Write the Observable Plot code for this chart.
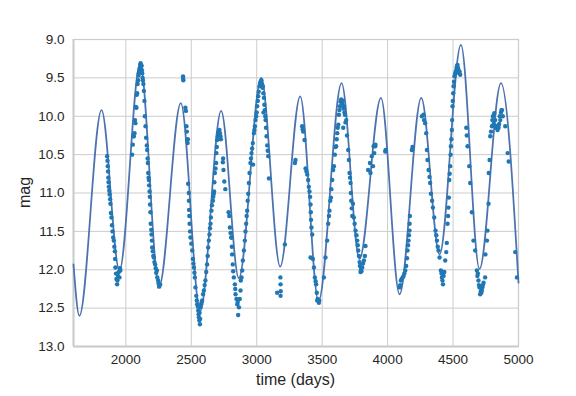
<!DOCTYPE html>
<html>
<head>
<meta charset="utf-8">
<script src="https://cdn.jsdelivr.net/npm/d3@7"></script>
<script src="https://cdn.jsdelivr.net/npm/@observablehq/plot@0.6"></script>
<style>
  html, body { margin: 0; padding: 0; background: #fff; }
  #chart { width: 576px; height: 396px; }
  svg { font-family: "Liberation Sans", Arial, sans-serif; }
</style>
</head>
<body>
<div id="chart"></div>
<script>
// Fitted model curve: extremes (time in days, magnitude)
const fitTime = [1600, 1645, 1814, 1951, 2109, 2254, 2420, 2568, 2728, 2863, 3034, 3179, 3332, 3472, 3648, 3785, 3949, 4091, 4257, 4397, 4560, 4702, 4866, 5000];
const fitMag  = [11.93, 12.60, 9.92, 12.01, 9.31, 12.22, 9.83, 12.54, 9.93, 12.11, 9.50, 11.96, 9.74, 12.41, 9.57, 11.86, 9.76, 12.32, 9.76, 11.80, 9.07, 11.99, 9.57, 12.17];

const observations = [
  [1857,10.52],[1860,10.58],[1862,10.65],[1864,10.72],[1866,10.80],[1868,10.86],[1870,10.92],[1873,10.97],[1876,11.02],[1880,11.08],
  [1882,11.14],[1886,11.26],[1890,11.32],[1894,11.42],[1898,11.50],[1903,11.58],[1908,11.62],[1912,11.70],[1916,11.76],[1918,11.86],
  [1920,11.97],[1925,12.05],[1928,12.12],[1933,12.19],[1936,12.14],[1940,12.08],[1946,12.03],[1951,12.10],[1955,11.98],[1958,12.01],
  [2048,10.50],[2053,10.37],[2058,10.26],[2061,10.26],[2066,10.22],[2070,10.05],[2073,10.09],[2076,9.88],[2081,9.89],[2084,9.72],
  [2086,9.70],[2090,9.58],[2094,9.53],[2097,9.47],[2099,9.44],[2103,9.40],[2107,9.37],[2110,9.33],[2113,9.31],[2117,9.35],
  [2120,9.34],[2123,9.40],[2125,9.44],[2128,9.50],[2130,9.53],[2134,9.58],[2138,9.67],[2142,9.80],[2145,10.00],[2150,10.13],
  [2155,10.28],[2160,10.38],[2163,10.44],[2166,10.55],[2168,10.61],[2171,10.74],[2174,10.80],[2176,10.83],[2178,10.90],[2181,10.98],
  [2183,11.05],[2185,11.15],[2188,11.25],[2190,11.40],[2194,11.48],[2196,11.54],[2199,11.62],[2201,11.71],[2206,11.76],[2210,11.82],
  [2214,11.84],[2218,11.90],[2224,11.93],[2228,11.98],[2232,12.04],[2237,12.01],[2240,12.10],[2247,12.14],[2250,12.18],[2254,12.22],
  [2257,12.21],[2262,12.19],
  [2437,9.48],[2438,9.51],[2439,9.53],
  [2455,9.89],[2459,9.93],[2463,10.13],[2466,10.20],[2468,10.31],[2472,10.35],[2474,10.30],[2476,10.88],[2481,11.00],[2482,11.10],
  [2483,11.22],[2485,11.30],[2487,11.40],[2491,11.50],[2494,11.58],[2500,11.66],[2507,11.75],[2512,11.86],[2516,11.92],[2520,11.97],
  [2524,12.04],[2527,12.10],[2532,12.23],[2538,12.34],[2542,12.40],[2545,12.45],[2550,12.48],[2553,12.53],[2556,12.58],[2558,12.62],
  [2561,12.66],[2563,12.56],[2566,12.71],[2568,12.64],[2570,12.49],[2575,12.45],[2579,12.42],[2583,12.40],[2590,12.32],[2596,12.27],
  [2602,12.20],[2608,12.14],[2614,12.03],[2621,11.93],[2625,11.82],[2629,11.71],[2634,11.62],[2639,11.54],[2643,11.46],[2647,11.40],
  [2650,11.32],[2654,11.23],[2658,11.16],[2665,11.10],[2668,11.05],[2672,11.01],[2674,10.98],[2676,10.86],[2680,10.74],[2685,10.68],
  [2690,10.61],[2692,10.48],[2695,10.40],[2697,10.31],[2702,10.26],[2705,10.22],[2710,10.19],[2715,10.18],[2719,10.22],[2723,10.26],
  [2726,10.30],
  [2741,10.60],[2743,10.55],[2746,10.70],[2752,10.85],[2760,10.95],[2785,11.25],[2790,11.30],[2795,11.45],[2800,11.52],[2805,11.58],
  [2807,11.58],[2810,11.70],[2812,11.80],[2817,11.93],[2820,12.02],[2825,12.10],[2833,12.19],[2836,12.25],[2838,12.32],[2845,12.38],
  [2851,12.45],[2855,12.42],[2858,12.59],[2864,12.49],[2870,12.38],[2876,12.27],[2878,12.14],[2884,12.10],
  [2889,12.01],[2894,11.88],[2902,11.75],[2909,11.62],[2914,11.50],[2919,11.40],[2923,11.30],[2927,11.23],[2931,11.10],[2935,11.01],
  [2940,10.87],[2945,10.74],[2952,10.61],[2956,10.55],[2960,10.48],[2965,10.42],[2970,10.35],[2972,10.63],[2978,10.22],[2982,10.18],
  [2986,10.13],[2991,10.05],[2996,10.00],[3000,9.95],[3003,9.87],[3008,9.80],[3011,9.74],[3015,9.68],[3021,9.61],[3025,9.58],
  [3029,9.55],[3032,9.57],[3036,9.53],[3040,9.58],[3044,9.63],[3047,9.61],[3051,9.70],[3052,9.95],[3055,9.76],[3058,9.85],
  [3062,9.92],[3065,10.00],[3067,10.05],[3071,10.15],[3075,10.26],[3080,10.38],[3084,10.45],[3088,10.52],[3093,10.81],
  [3156,12.30],[3181,12.10],[3182,12.19],[3183,12.28],[3182,12.34],[3215,11.67],
  [3292,10.61],[3296,10.57],[3347,10.13],[3351,10.17],[3355,10.20],[3365,10.31],[3373,10.68],[3380,10.72],[3386,10.76],[3393,10.83],
  [3398,10.92],[3403,10.98],[3408,11.05],[3411,11.15],[3413,11.25],[3415,11.35],[3418,11.45],[3424,11.54],[3411,11.84],[3429,11.86],
  [3437,11.97],[3444,12.10],[3450,12.15],[3454,12.19],[3459,12.30],[3462,12.40],[3466,12.38],[3475,12.43],[3478,12.40],
  [3513,12.10],[3525,11.84],[3538,11.62],[3546,11.40],[3552,11.30],[3556,11.23],[3562,11.10],[3567,11.06],[3570,10.95],[3577,10.83],
  [3584,10.70],[3590,10.65],[3597,10.50],[3602,10.40],[3607,10.39],[3611,10.30],[3615,10.22],[3619,10.15],[3623,10.11],[3628,9.98],
  [3632,9.92],[3636,9.87],[3640,9.81],[3645,9.78],[3650,9.79],[3653,9.83],[3657,9.80],[3661,10.15],[3663,9.90],[3666,9.87],
  [3670,9.95],[3674,9.98],[3678,10.08],[3684,10.05],[3690,10.25],[3699,10.44],[3704,10.57],[3709,10.74],[3713,10.80],[3717,10.87],
  [3719,11.00],[3722,11.10],[3726,11.20],[3730,11.30],[3735,11.14],[3742,11.32],[3748,11.40],[3755,11.49],[3762,11.55],[3768,11.62],
  [3772,11.68],[3776,11.75],[3781,11.82],[3786,11.90],[3788,11.95],[3793,12.03],[3796,12.00],[3800,12.02],[3806,11.97],[3812,11.92],
  [3819,11.88],[3826,11.82],[3831,11.69],
  [3851,10.70],[3865,10.61],[3869,10.74],[3879,10.52],[3888,10.65],[3893,10.39],[3898,10.48],[3905,10.39],[3907,10.37],[3982,10.46],
  [3985,10.44],
  [4091,12.23],[4096,12.20],[4101,12.14],[4108,12.12],[4115,12.10],[4122,12.08],[4128,12.05],[4135,12.01],[4142,11.95],[4148,11.85],
  [4152,11.75],[4156,11.68],[4160,11.62],[4163,11.55],[4167,11.49],[4168,11.40],[4170,11.30],
  [4185,10.44],[4190,10.40],[4262,10.00],[4274,9.98],[4278,10.05],[4287,10.09],[4295,10.22],[4300,10.44],[4305,10.57],[4313,10.70],
  [4320,10.79],[4325,10.87],[4331,11.01],[4340,11.10],[4346,11.19],[4356,11.32],[4366,11.49],[4372,11.55],[4377,11.62],[4383,11.70],
  [4389,11.75],[4397,11.84],[4407,12.01],[4412,12.05],[4415,12.10],[4419,12.14],[4423,12.19],[4428,12.08],[4433,12.03],[4440,11.88],
  [4448,11.77],[4452,11.65],[4458,11.40],[4462,11.30],[4465,11.19],[4468,11.06],
  [4471,10.83],[4474,10.75],[4478,10.65],[4481,10.50],[4484,10.39],[4487,10.30],[4491,10.18],[4493,10.05],[4496,9.87],[4498,9.80],
  [4501,9.70],[4504,9.61],[4507,9.55],[4511,9.48],[4515,9.45],[4520,9.42],[4524,9.40],[4528,9.36],[4531,9.34],[4534,9.33],
  [4538,9.37],[4542,9.40],[4546,9.44],[4550,9.42],[4555,9.46],[4601,10.15],[4605,10.25],[4611,10.39],[4624,10.65],[4631,10.87],
  [4644,11.25],[4656,11.62],[4669,11.75],[4682,12.01],[4686,12.08],[4690,12.05],[4694,12.14],[4698,12.20],[4702,12.23],[4707,12.32],
  [4712,12.28],[4716,12.30],[4720,12.27],[4724,12.23],[4728,12.20],[4733,12.17],[4745,12.10],
  [4747,11.80],[4759,11.62],[4763,11.49],[4771,11.14],[4773,10.74],[4779,10.57],[4784,10.26],[4790,10.20],[4797,10.13],[4800,10.05],
  [4805,10.00],[4810,10.10],[4815,9.96],[4818,10.12],[4822,10.05],[4828,10.15],[4835,10.13],[4840,10.18],[4845,10.12],[4848,10.15],
  [4852,10.10],[4857,10.00],[4861,10.05],[4866,9.95],[4870,9.92],[4874,9.92],[4880,10.00],[4899,10.13],[4917,10.48],[4925,10.59],
  [4975,11.77],[4988,12.10]
];

const xTicks = [2000, 2500, 3000, 3500, 4000, 4500, 5000];
const yTicks = [9.0, 9.5, 10.0, 10.5, 11.0, 11.5, 12.0, 12.5, 13.0];
const xLabel = "time (days)";
const yLabel = "mag";

const fit = fitTime.map((t, i) => ({t, mag: fitMag[i]}));
const obs = observations.map(([t, mag]) => ({t, mag}));

const gridColor = "#cccccc";
const textColor = "#262626";

const svg = Plot.plot({
  width: 576,
  height: 396,
  marginLeft: 73,
  marginRight: 58,
  marginTop: 39,
  marginBottom: 50,
  style: {fontFamily: '"Liberation Sans", Arial, sans-serif', color: textColor, background: "#fff"},
  x: {domain: [1600, 5000]},
  y: {domain: [9, 13], reverse: true},
  marks: [
    Plot.gridX(xTicks, {stroke: gridColor, strokeOpacity: 1, strokeWidth: 1}),
    Plot.gridY(yTicks, {stroke: gridColor, strokeOpacity: 1, strokeWidth: 1}),
    Plot.frame({stroke: gridColor, strokeWidth: 1.25}),
    Plot.ruleY([13], {stroke: gridColor, strokeWidth: 2}),
    Plot.ruleX([1600], {stroke: gridColor, strokeWidth: 2}),
    Plot.axisX(xTicks, {tickSize: 0, tickPadding: 8, fontSize: 13.5, label: null, tickFormat: d3.format("d"), fill: textColor}),
    Plot.axisY(yTicks, {tickSize: 0, tickPadding: 9, fontSize: 13.5, label: null, tickFormat: d3.format(".1f"), fill: textColor}),
    Plot.line(fit, {x: "t", y: "mag", curve: "monotone-x", stroke: "#4c72b0", strokeWidth: 1.75}),
    Plot.dot(obs, {x: "t", y: "mag", r: 2.2, fill: "#1f77b4", stroke: "none"})
  ]
});

const s = d3.select(svg);
s.append("text")
  .attr("x", (73 + 518) / 2)
  .attr("y", 385)
  .attr("text-anchor", "middle")
  .attr("font-size", 16)
  .attr("fill", textColor)
  .text(xLabel);
s.append("text")
  .attr("transform", `translate(30, ${(39 + 346) / 2}) rotate(-90)`)
  .attr("text-anchor", "middle")
  .attr("font-size", 16)
  .attr("fill", textColor)
  .text(yLabel);

document.getElementById("chart").appendChild(svg);
</script>
</body>
</html>
